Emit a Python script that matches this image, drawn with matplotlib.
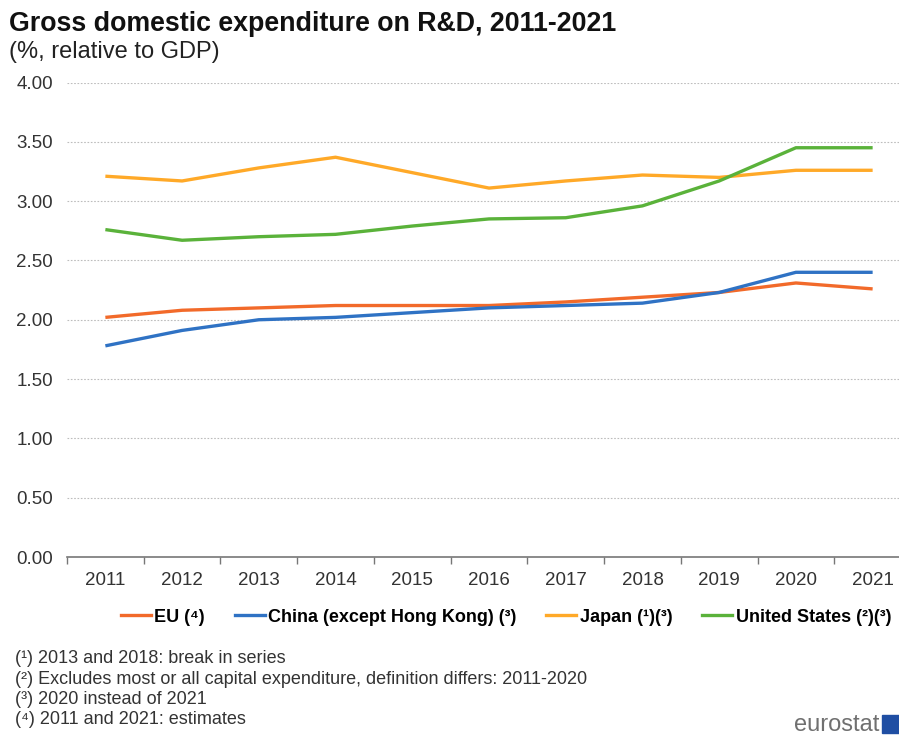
import matplotlib.pyplot as plt
from matplotlib.lines import Line2D
from matplotlib.patches import Rectangle

YEARS = [2011, 2012, 2013, 2014, 2015, 2016, 2017, 2018, 2019, 2020, 2021]

EU = [2.02, 2.08, 2.10, 2.12, 2.12, 2.12, 2.15, 2.19, 2.23, 2.31, 2.26]
CHINA = [1.78, 1.91, 2.00, 2.02, 2.06, 2.10, 2.12, 2.14, 2.23, 2.40, 2.40]
JAPAN = [3.21, 3.17, 3.28, 3.37, 3.24, 3.11, 3.17, 3.22, 3.20, 3.26, 3.26]
US = [2.76, 2.67, 2.70, 2.72, 2.79, 2.85, 2.86, 2.96, 3.17, 3.45, 3.45]

SERIES = [
    ("EU (⁴)", EU, "#f26a2a"),
    ("China (except Hong Kong) (³)", CHINA, "#2f72c4"),
    ("Japan (¹)(³)", JAPAN, "#ffa928"),
    ("United States (²)(³)", US, "#5ab23a"),
]

FOOTNOTES = [
    "(¹) 2013 and 2018: break in series",
    "(²) Excludes most or all capital expenditure, definition differs: 2011-2020",
    "(³) 2020 instead of 2021",
    "(⁴) 2011 and 2021: estimates",
]

SANS = ["Liberation Sans", "DejaVu Sans"]

plt.rcParams["font.family"] = SANS

W, H = 899, 736
fig = plt.figure(figsize=(W / 100, H / 100), dpi=100)

# axes placed in pixel terms of the reference image
left, right = 67, 911
top, bottom = 82.5, 557
ax = fig.add_axes([left / W, 1 - bottom / H, (right - left) / W, (bottom - top) / H])

for label, values, color in SERIES:
    ax.plot(YEARS, values, color=color, linewidth=2.4, solid_capstyle="butt")

ax.set_xlim(YEARS[0] - 0.5, YEARS[-1] + 0.5)
ax.set_ylim(0, 4)
ax.set_yticks([0, 0.5, 1, 1.5, 2, 2.5, 3, 3.5, 4])
ax.set_yticklabels([f"{v:.2f}" for v in ax.get_yticks()])
ax.set_xticks(YEARS)
ax.set_xticklabels([str(y) for y in YEARS])
ax.set_xticks([y + 0.5 for y in [YEARS[0] - 1] + YEARS], minor=True)

ax.tick_params(axis="y", length=0, pad=10, labelsize=13.5, labelcolor="#333333")
ax.tick_params(axis="x", which="major", length=0, pad=11, labelsize=13.5, labelcolor="#333333")
ax.tick_params(axis="x", which="minor", length=5, width=1, color="#777777", direction="out")

for side in ["top", "right", "left"]:
    ax.spines[side].set_visible(False)
ax.spines["bottom"].set_color("#777777")
ax.spines["bottom"].set_linewidth(1.2)

ax.grid(axis="y", linestyle=(0, (1.5, 1.5)), color="#bdbdbd", linewidth=0.8)
ax.set_axisbelow(True)

fig.text(9 / W, 1 - 31 / H, "Gross domestic expenditure on R&D, 2011-2021",
         fontsize=19.3, fontweight="bold", color="#111111", va="baseline")
fig.text(9 / W, 1 - 58 / H, "(%, relative to GDP)",
         fontsize=17, color="#222222", va="baseline")

handles = [Line2D([], [], color=c, linewidth=2.4) for _, _, c in SERIES]
fig.legend(handles, [s[0] for s in SERIES], loc="center left", ncol=4,
           bbox_to_anchor=(121 / W, 1 - 617 / H), frameon=False,
           handlelength=1.65, handletextpad=0.2, columnspacing=1.65,
           borderaxespad=0, borderpad=0,
           prop={"weight": "bold", "size": 13})

for i, note in enumerate(FOOTNOTES):
    fig.text(15 / W, 1 - (663 + i * 20.5) / H, note, fontsize=13,
             color="#333333", va="baseline")

fig.text(879 / W, 1 - 731 / H, "eurostat", fontsize=17, color="#707070",
         ha="right", va="baseline")
fig.add_artist(Rectangle((882 / W, 1 - 733 / H), 20 / W, 18 / H,
                         transform=fig.transFigure, color="#1f4ea3"))

fig.savefig("out.png", dpi=100)
